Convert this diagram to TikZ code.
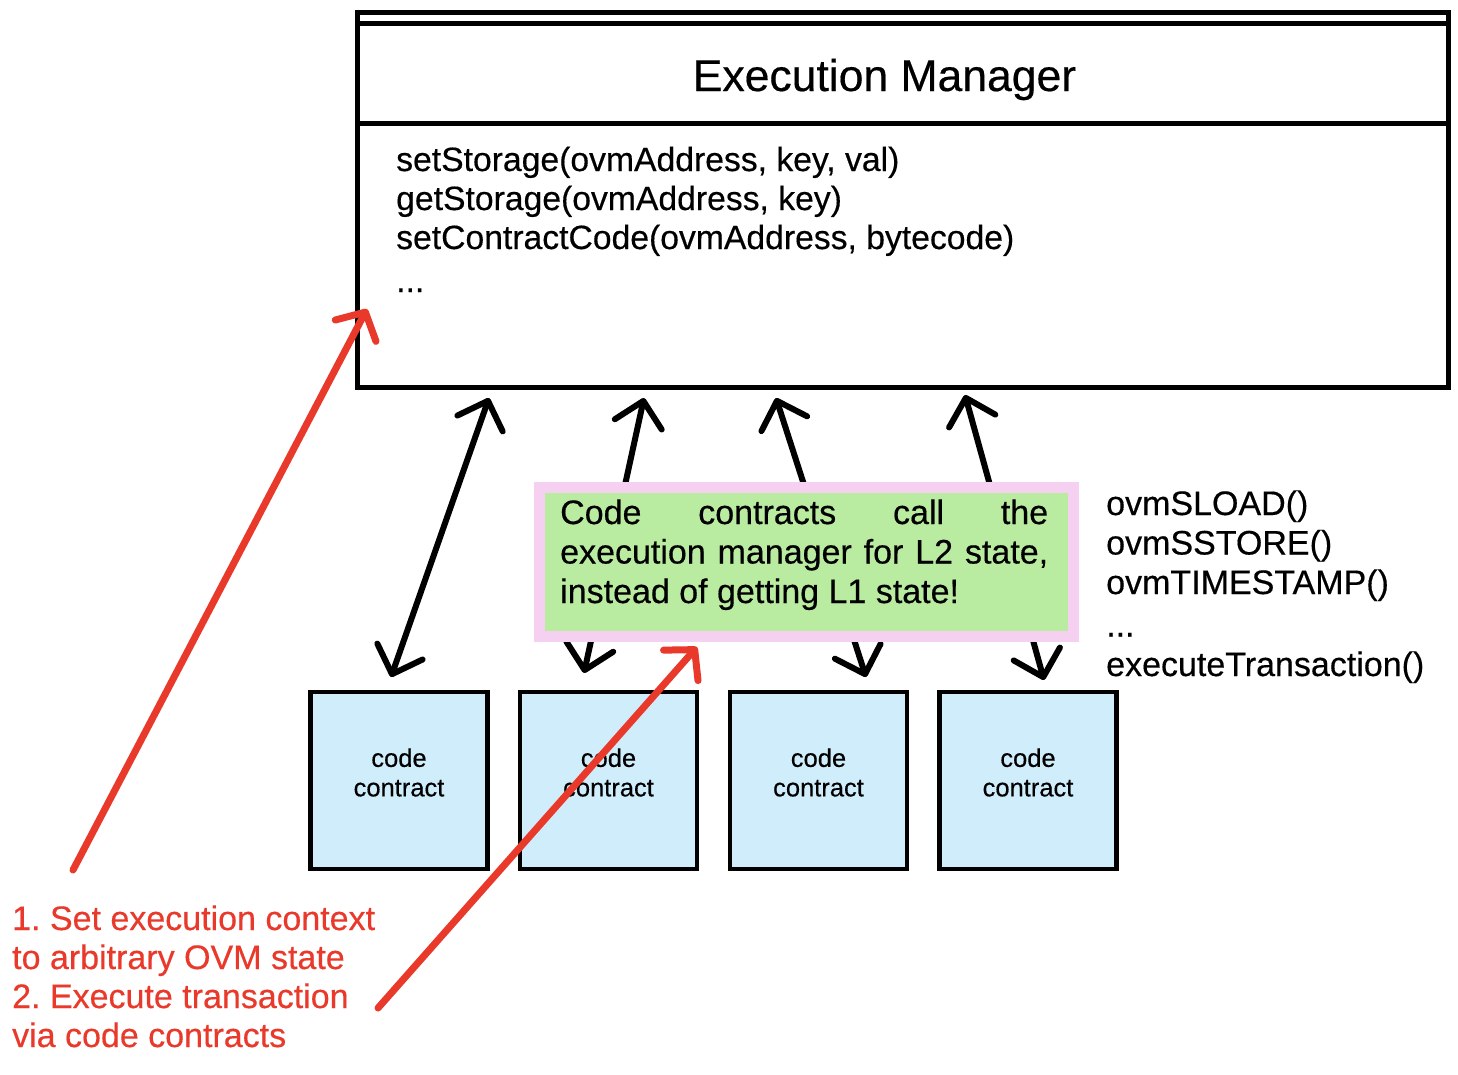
\documentclass[tikz,border=0pt]{standalone}
\usepackage{fontspec}
\setmainfont{Liberation Sans}[UprightFeatures={FakeBold=0.4}]
\usetikzlibrary{arrows.meta}
\definecolor{redline}{RGB}{233,57,43}
\definecolor{contractblue}{RGB}{207,237,250}
\definecolor{notegreen}{RGB}{185,235,160}
\definecolor{notepink}{RGB}{246,208,240}
\frenchspacing

\begin{document}
\begin{tikzpicture}[x=1pt,y=-1pt,
  contract/.style={draw, line width=4.5, fill=contractblue, minimum size=177, inner sep=0},
  ctext/.style={align=center, font=\fontsize{25.5}{29.5}\selectfont},
  call/.style={line width=6, line cap=round, line join=round,
    {Straight Barb[length=24pt,width=48pt,round]}-{Straight Barb[length=24pt,width=48pt,round]}},
  redarrow/.style={redline, line width=7, line cap=round, line join=round,
    -{Straight Barb[length=21pt,width=46pt,round]}}]
\useasboundingbox (0,0) rectangle (1458,1074);

\node [draw, line width=5, minimum width=1091, minimum height=375, inner sep=0] (manager) at (903,200) {};
\draw [line width=5] (357.5,23.5) -- (1448.5,23.5);
\draw [line width=5] (357.5,123.5) -- (1448.5,123.5);
\node [anchor=base, inner sep=0, font=\fontsize{44.5}{50}\selectfont] (title) at (884.5,91) {Execution Manager};
\node [anchor=base west, inner sep=0, font=\fontsize{33.7}{39}\selectfont] (methods) at (396,171)
  {\parbox[t]{800pt}{\raggedright setStorage(ovmAddress, key, val)\\ getStorage(ovmAddress, key)\\
   setContractCode(ovmAddress, bytecode)\\[4pt] ...}};

% calls between contracts and manager
\coordinate (up1) at (489,398);
\coordinate (down1) at (391,677);
\coordinate (up2) at (644,398);
\coordinate (down2) at (584,673);
\coordinate (up3) at (776,398);
\coordinate (down3) at (866,677);
\coordinate (up4) at (965,395);
\coordinate (down4) at (1044,680);
\draw [call] (up1) -- (down1);
\draw [call] (up2) -- (down2);
\draw [call] (up3) -- (down3);
\draw [call] (up4) -- (down4);

\node [draw=notepink, fill=notegreen, line width=11, minimum width=534, minimum height=149, inner sep=0] (note) at (806,561.5) {};
\node [anchor=base west, inner sep=0, font=\fontsize{34}{39.5}\selectfont] (notetext) at (560,524)
  {\parbox[t]{488pt}{\hyphenpenalty=10000 \exhyphenpenalty=10000 \tolerance=10000 \hbadness=10000
   Code contracts call the execution manager for L2 state, instead of getting L1 state!}};

\node [anchor=base west, inner sep=0, font=\fontsize{34}{39.5}\selectfont] (ovmcalls) at (1106,515)
  {\parbox[t]{350pt}{\raggedright ovmSLOAD()\\ ovmSSTORE()\\ ovmTIMESTAMP()\\[3pt] ...\\ executeTransaction()}};

\node [contract] (cc1) at (399,780.5) {};
\node [contract] (cc2) at (608.5,780.5) {};
\node [contract] (cc3) at (818.5,780.5) {};
\node [contract] (cc4) at (1028,780.5) {};
\node [ctext] at ([yshift=8pt]cc1.center) {code\\contract};
\node [ctext] at ([yshift=8pt]cc2.center) {code\\contract};
\node [ctext] at ([yshift=8pt]cc3.center) {code\\contract};
\node [ctext] at ([yshift=8pt]cc4.center) {code\\contract};

% red steps
\coordinate (ctxstart) at (73,870);
\coordinate (ctxend) at (367,309);
\coordinate (txstart) at (378,1008);
\coordinate (txend) at (697,647);
\draw [redarrow] (ctxstart) -- (ctxend);
\draw [redarrow] (txstart) -- (txend);
\node [anchor=base west, inner sep=0, text=redline, font=\fontsize{34}{39}\selectfont] (steps) at (12,930)
  {\parbox[t]{420pt}{\raggedright 1. Set execution context\\ to arbitrary OVM state\\ 2. Execute transaction\\ via code contracts}};

\end{tikzpicture}
\end{document}
